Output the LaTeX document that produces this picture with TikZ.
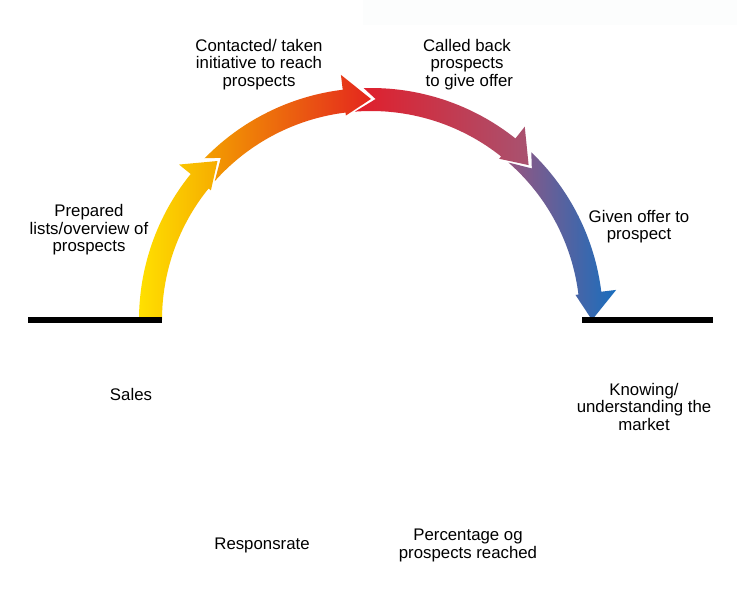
\documentclass[tikz,border=0pt]{standalone}
\usepackage{fontspec}
\setmainfont{Liberation Sans}
\definecolor{ylw}{RGB}{255,224,0}
\definecolor{orA}{RGB}{246,172,0}
\definecolor{orB}{RGB}{243,158,0}
\definecolor{rdA}{RGB}{228,38,30}
\definecolor{rdB}{RGB}{226,30,42}
\definecolor{mvA}{RGB}{168,82,112}
\definecolor{mvB}{RGB}{150,86,128}
\definecolor{blu}{RGB}{25,110,190}
\definecolor{haze}{RGB}{252,253,253}
\begin{document}
\begin{tikzpicture}[x=1pt,y=1pt,
  lbl/.style={font=\fontsize{16.8}{17.5}\selectfont, align=center, inner sep=0pt},
  groundline/.style={line width=5.5pt, black, line cap=butt}]
\useasboundingbox (0,0) rectangle (754,591);
\fill[white] (0,0) rectangle (754,591);
\fill[haze] (363,566) rectangle (737,591);

% the arch of four curved arrows around the centre of the semicircle
\begin{scope}[shift={(371,271)}]
  % stage 1: flat tail on the ground line
  \shade[left color=ylw, right color=orA]
    (180:232) arc[start angle=180, end angle=141, radius=232]
    -- (141:247) -- (134:221) -- (141:206) -- (141:209)
    arc[start angle=141, end angle=180, radius=209] -- cycle;
  % stage 2
  \shade[left color=orB, right color=rdA]
    (135.8:232) arc[start angle=135.8, end angle=97, radius=232]
    -- (97:247) -- (90:221) -- (97:206) -- (97:209)
    arc[start angle=97, end angle=138.4, radius=209]
    -- (132.8:221) -- cycle;
  % stage 3
  \shade[left color=rdB, right color=mvA]
    (91.8:232) arc[start angle=91.8, end angle=51.5, radius=232]
    -- (51.5:247) -- (44.5:221) -- (51.5:206) -- (51.5:209)
    arc[start angle=51.5, end angle=94.4, radius=209]
    -- (88.8:221) -- cycle;
  % stage 4: ends on the right ground line
  \shade[left color=mvB, right color=blu]
    (46.3:232) arc[start angle=46.3, end angle=7, radius=232]
    -- (7:247) -- (0:221) -- (7:206) -- (7:209)
    arc[start angle=7, end angle=48.9, radius=209]
    -- (43.3:221) -- cycle;
\end{scope}

% ground lines
\coordinate (gl1) at (28,271);
\coordinate (gl2) at (162,271);
\coordinate (gr1) at (582,271);
\coordinate (gr2) at (713,271);
\draw[groundline] (gl1) -- (gl2);
\draw[groundline] (gr1) -- (gr2);

% stage labels
\node[lbl] (prep) at (89,361) {Prepared\\lists/overview of\\prospects};
\node[lbl] (cont) at (259,526.5) {Contacted/ taken\\initiative to reach\\prospects};
\node[lbl] (call) at (467,526.5) {Called back\\prospects\\\ to give offer};
\node[lbl] (give) at (639,364.5) {Given offer to\\prospect};

% outcome labels
\node[lbl] (sales) at (131,197) {Sales};
\node[lbl] (know) at (644,184.5) {Knowing/\\understanding the\\market};
\node[lbl] (resp) at (262,46) {Responsrate};
\node[lbl] (perc) at (468,45.5) {Percentage og\\prospects reached};
\end{tikzpicture}
\end{document}
